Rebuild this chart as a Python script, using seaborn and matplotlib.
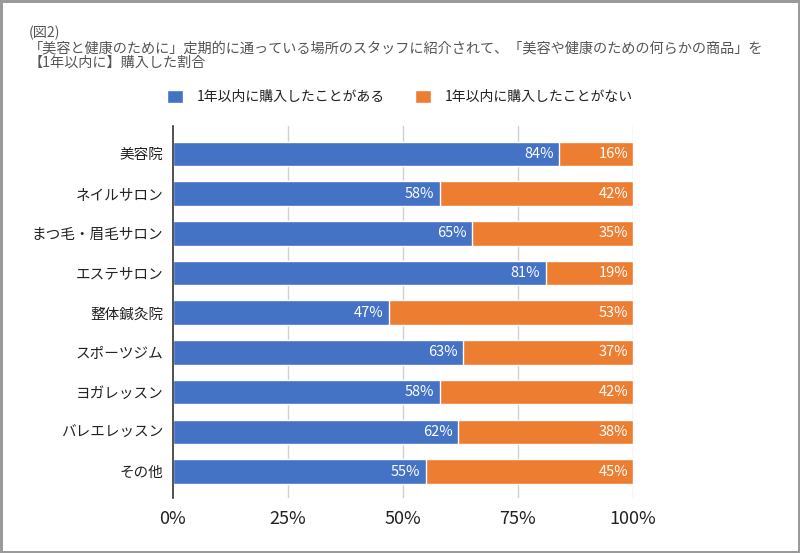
import matplotlib
matplotlib.use('Agg')
import matplotlib.pyplot as plt
from matplotlib.patches import Patch
import pandas as pd
import seaborn as sns

categories = ['美容院', 'ネイルサロン', 'まつ毛・眉毛サロン', 'エステサロン', '整体鍼灸院',
              'スポーツジム', 'ヨガレッスン', 'バレエレッスン', 'その他']
bought = [84, 58, 65, 81, 47, 63, 58, 62, 55]
not_bought = [16, 42, 35, 19, 53, 37, 42, 38, 45]
series_names = ['1年以内に購入したことがある', '1年以内に購入したことがない']
xticks = [0, 25, 50, 75, 100]

title = ('(図2)\n'
         '「美容と健康のために」定期的に通っている場所のスタッフに紹介されて、「美容や健康のための何らかの商品」を\n'
         '【1年以内に】購入した割合')

BLUE = '#4472C4'
ORANGE = '#ED7D31'

sns.set_style('white')
plt.rcParams['font.family'] = ['Noto Sans CJK JP', 'DejaVu Sans']

df = pd.DataFrame({'cat': categories, 'bought': bought, 'not_bought': not_bought})
df['total'] = df['bought'] + df['not_bought']

fig = plt.figure(figsize=(8, 5.53), dpi=100)
fig.patch.set_edgecolor('#9a9a9a')
fig.patch.set_linewidth(2.5)
ax = fig.add_axes([0.21625, 0.0995, 0.575, 0.6727])

for x in xticks[1:]:
    ax.axvline(x, color='#d0d0d0', lw=1, zorder=0)

sns.barplot(data=df, x='total', y='cat', color=ORANGE, orient='h', width=0.62,
            saturation=1, ax=ax, zorder=2)
sns.barplot(data=df, x='bought', y='cat', color=BLUE, orient='h', width=0.62,
            saturation=1, ax=ax, zorder=3)

for i, row in df.iterrows():
    ax.text(row['bought'] - 1.2, i, f"{row['bought']}%", color='white', ha='right',
            va='center', fontsize=10.5, zorder=4)
    ax.text(row['total'] - 1.0, i, f"{row['not_bought']}%", color='white', ha='right',
            va='center', fontsize=10.5, zorder=4)

ax.set_xlim(0, 100)
ax.set_ylim(8.667, -0.705)
ax.set_xticks(xticks)
ax.set_xticklabels([f'{t}%' for t in xticks], fontsize=13, color='#222222')
ax.tick_params(axis='x', length=0, pad=9)
ax.tick_params(axis='y', length=0, pad=7, labelsize=10.5, labelcolor='#222222')
ax.set_xlabel('')
ax.set_ylabel('')
for s in ['top', 'right', 'bottom']:
    ax.spines[s].set_visible(False)
ax.spines['left'].set_color('#333333')
ax.spines['left'].set_linewidth(1.2)
ax.spines['left'].set_zorder(5)

fig.text(0.036, 1 - 26 / 553, title, ha='left', va='top', fontsize=10.2,
         color='#555555', linespacing=1.05)

handles = [Patch(facecolor=BLUE), Patch(facecolor=ORANGE)]
fig.legend(handles, series_names, loc='center', bbox_to_anchor=(0.5, 1 - 97 / 553),
           ncol=2, frameon=False, fontsize=10, handlelength=1.1, handleheight=1.1,
           columnspacing=2.2, handletextpad=1.0, labelcolor='#222222')

plt.savefig('out.png', dpi=100, edgecolor=fig.get_edgecolor())
